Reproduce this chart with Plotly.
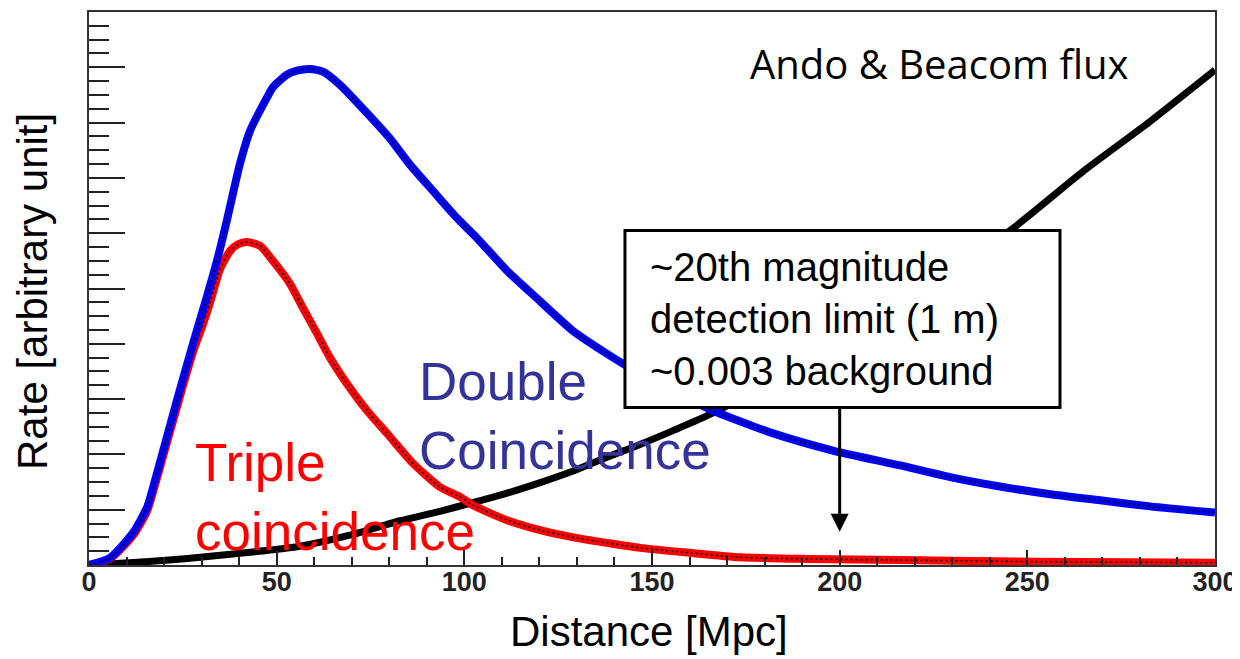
import plotly.graph_objects as go

# ---- data ----
double_dist = [0, 5.6, 11.7, 15.5, 17.6, 23.4, 27.7, 31.4, 34.1, 36.8, 40.2, 42.9, 47.4, 49.0,
               52.8, 55.4, 58.9, 62.3, 66.9, 73.0, 80.2, 85.5, 91.7, 98.1, 103.4, 111.4, 120.2,
               129.0, 138.0, 142.3, 149.5, 157.5, 166.3, 182.3, 198.2, 216.1, 229.4, 242.7,
               256.1, 269.4, 282.7, 300]
double_rate = [0, 0.13, 0.58, 1.05, 1.53, 2.97, 4.0, 4.85, 5.5, 6.25, 7.25, 7.85, 8.45, 8.64,
               8.87, 8.94, 8.97, 8.92, 8.68, 8.25, 7.71, 7.24, 6.76, 6.27, 5.91, 5.32, 4.77,
               4.23, 3.82, 3.64, 3.38, 3.08, 2.79, 2.38, 2.07, 1.80, 1.59, 1.42,
               1.28, 1.17, 1.06, 0.95]

triple_dist = [0, 5.6, 11.7, 15.5, 17.6, 23.4, 27.7, 30.4, 32.2, 34.9, 37.6, 39.7, 42.1, 45.6,
               49.0, 53.6, 57.0, 60.8, 64.2, 68.7, 74.1, 79.4, 86.3, 93.5, 98.9, 102.3, 111.4,
               120.2, 129.0, 138.0, 146.8, 160.1, 173.5, 191.3, 216.1, 252, 300]
triple_rate = [0, 0.11, 0.53, 0.98, 1.45, 2.85, 3.85, 4.36, 4.74, 5.35, 5.68, 5.80, 5.84, 5.77,
               5.50, 5.08, 4.65, 4.18, 3.75, 3.28, 2.79, 2.38, 1.84, 1.41, 1.23, 1.08, 0.81,
               0.63, 0.50, 0.40, 0.31, 0.22, 0.14, 0.11, 0.09, 0.06, 0.04]

flux_dist = [0, 10.7, 21.3, 29.6, 42.9, 56.2, 69.5, 82.9, 93.5, 102.3, 111.4, 120.2, 129.0,
             138.0, 146.8, 155.6, 164.7, 189.4, 216.1, 246.2, 264.9, 282.7, 300]
flux_rate = [0, 0.04, 0.09, 0.14, 0.23, 0.34, 0.54, 0.80, 0.97, 1.13, 1.30, 1.49, 1.70,
             1.95, 2.18, 2.43, 2.70, 3.57, 4.67, 6.09, 7.12, 8.02, 8.95]

x_ticks = [0, 50, 100, 150, 200, 250, 300]
x_ticklabels = ["0", "50", "100", "150", "200", "250", "300"]

SMOOTH = 0.6
DOTS = "2px,3px"

fig = go.Figure()

# Ando & Beacom flux (black)
fig.add_trace(go.Scatter(x=flux_dist, y=flux_rate, mode="lines",
                         line=dict(color="black", width=7, shape="spline", smoothing=SMOOTH),
                         hoverinfo="skip"))

# Triple coincidence (red, thick line with black dotted core)
fig.add_trace(go.Scatter(x=triple_dist, y=triple_rate, mode="lines",
                         line=dict(color="#ff0000", width=8, shape="spline", smoothing=SMOOTH),
                         hoverinfo="skip"))
fig.add_trace(go.Scatter(x=triple_dist, y=triple_rate, mode="lines",
                         line=dict(color="black", width=1.6, dash=DOTS, shape="spline", smoothing=SMOOTH),
                         hoverinfo="skip"))

# Double coincidence (blue)
fig.add_trace(go.Scatter(x=double_dist, y=double_rate, mode="lines",
                         line=dict(color="#0000ff", width=8, shape="spline", smoothing=SMOOTH),
                         hoverinfo="skip"))
fig.add_trace(go.Scatter(x=double_dist, y=double_rate, mode="lines",
                         line=dict(color="black", width=1.6, dash=DOTS, shape="spline", smoothing=SMOOTH),
                         hoverinfo="skip"))

font_main = "Liberation Sans, Arial, sans-serif"

# page body has an 8px margin; compensate so the plot box lands at 89..1215 x 10..565
fig.update_layout(
    width=1232, height=651,
    margin=dict(l=81, r=25, t=2, b=94),
    paper_bgcolor="white", plot_bgcolor="white",
    showlegend=False,
    font=dict(family=font_main, color="black"),
    xaxis=dict(
        range=[0, 300], showgrid=False, zeroline=False,
        showline=True, mirror=True, linecolor="#333333", linewidth=2,
        ticks="inside", ticklen=15, tickwidth=1.5, tickcolor="#222",
        tickvals=x_ticks, ticktext=x_ticklabels,
        tickfont=dict(family="Liberation Sans, Arial", size=27, color="#222", weight="bold"),
        ticklabelstandoff=-8,
        minor=dict(ticks="inside", dtick=10, ticklen=8, tickwidth=1.5, tickcolor="#222"),
    ),
    yaxis=dict(
        range=[0, 10], showgrid=False, zeroline=False,
        showline=True, mirror=True, linecolor="#333333", linewidth=2,
        ticks="inside", ticklen=36, tickwidth=1.5, tickcolor="#222", dtick=1,
        showticklabels=False,
        minor=dict(ticks="inside", dtick=0.25, ticklen=20, tickwidth=1.5, tickcolor="#222"),
    ),
)

# axis titles
fig.add_annotation(x=0.4973, y=-0.1207, xref="paper", yref="paper", xanchor="center", yanchor="middle",
                   text="Distance [Mpc]", showarrow=False, font=dict(size=42, family=font_main))
fig.add_annotation(x=-0.05, y=0.495, xref="paper", yref="paper", xanchor="center", yanchor="middle",
                   text="Rate [arbitrary unit]", textangle=-90, showarrow=False,
                   font=dict(size=42, family=font_main))

# detection-limit box
fig.add_shape(type="rect", xref="x", yref="y", x0=142.8, x1=258.7, y0=2.85, y1=6.05,
              line=dict(color="black", width=3), fillcolor="white", layer="above")

fig.add_annotation(x=148.9, y=4.45, xref="x", yref="y", xanchor="left", yanchor="middle",
                   text="~20th magnitude<br>detection limit (1 m)<br>~0.003 background",
                   align="left", showarrow=False, font=dict(size=40, family=font_main, color="black"))

# arrow down to 200 Mpc
fig.add_annotation(x=200, y=0.6, xref="x", yref="y", text="", showarrow=True,
                   ax=0, ay=-125, arrowhead=2, arrowsize=1.2, arrowwidth=3, arrowcolor="black")

fig.add_annotation(x=175.6, y=9.06, xref="x", yref="y", xanchor="left", yanchor="middle",
                   text="Ando & Beacom flux", showarrow=False,
                   font=dict(size=40, family="Open Sans, Liberation Sans, Arial", color="black"))

fig.add_annotation(x=87.4, y=2.70, xref="x", yref="y", xanchor="left", yanchor="middle",
                   text="Double<br>Coincidence", align="left", showarrow=False,
                   font=dict(size=53, family=font_main, color="#333399"))

fig.add_annotation(x=27.8, y=1.23, xref="x", yref="y", xanchor="left", yanchor="middle",
                   text="Triple<br>coincidence", align="left", showarrow=False,
                   font=dict(size=53, family=font_main, color="#ff0000"))

fig.write_html("out.html")
